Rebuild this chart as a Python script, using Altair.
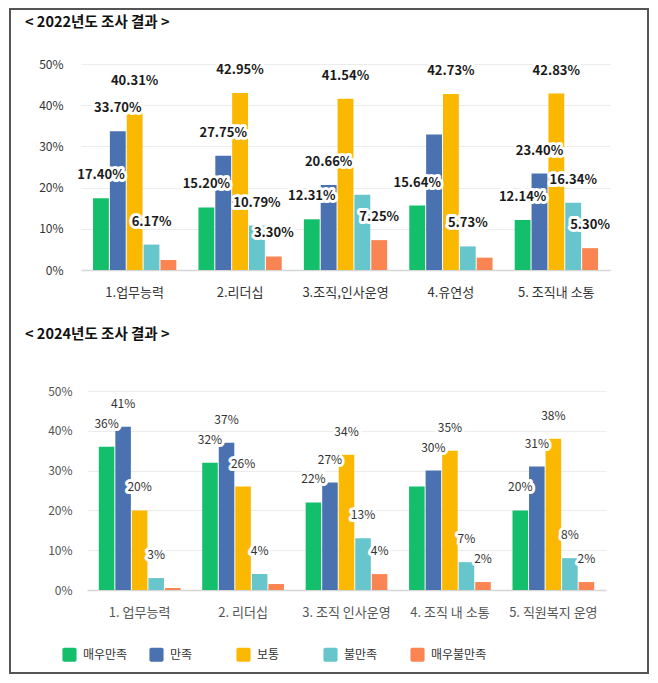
import altair as alt
import pandas as pd

levels = ["매우만족", "만족", "보통", "불만족", "매우불만족"]
colors = ["#14bf6c", "#4a72b0", "#fbb800", "#66c6cc", "#fa8452"]

cats_2022 = ["1.업무능력", "2.리더십", "3.조직,인사운영", "4.유연성", "5. 조직내 소통"]
very_sat_2022 = [17.40, 15.20, 12.31, 15.64, 12.14]
sat_2022 = [33.70, 27.75, 20.66, 32.90, 23.40]
normal_2022 = [40.31, 42.95, 41.54, 42.73, 42.83]
unsat_2022 = [6.17, 10.79, 18.24, 5.73, 16.34]
very_unsat_2022 = [2.42, 3.30, 7.25, 3.00, 5.30]
# (category index, level) pairs without a printed value
unlabeled_2022 = [(0, "매우불만족"), (2, "불만족"), (3, "만족"), (3, "매우불만족")]

cats_2024 = ["1. 업무능력", "2. 리더십", "3. 조직 인사운영", "4. 조직 내 소통", "5. 직원복지 운영"]
very_sat_2024 = [36, 32, 22, 26, 20]
sat_2024 = [41, 37, 27, 30, 31]
normal_2024 = [20, 26, 34, 35, 38]
unsat_2024 = [3, 4, 13, 7, 8]
very_unsat_2024 = [0.5, 1.5, 4, 2, 2]
unlabeled_2024 = [(0, "매우불만족"), (1, "매우불만족"), (3, "매우만족")]

FONT = "Noto Sans CJK KR"


def make_df(cats, series, unlabeled, fmt):
    rows = []
    for i, c in enumerate(cats):
        for lvl, arr in zip(levels, series):
            v = arr[i]
            lab = "" if (i, lvl) in unlabeled else fmt.format(v) + "%"
            rows.append({"cat": c, "lvl": lvl, "value": v, "label": lab})
    return pd.DataFrame(rows)


df22 = make_df(cats_2022, [very_sat_2022, sat_2022, normal_2022, unsat_2022, very_unsat_2022],
               unlabeled_2022, "{:.2f}")
df24 = make_df(cats_2024, [very_sat_2024, sat_2024, normal_2024, unsat_2024, very_unsat_2024],
               unlabeled_2024, "{:.0f}")

H = 664

legend = alt.Legend(
    orient="none", legendX=52, legendY=638, direction="horizontal", columns=5,
    title=None, gridAlign="all", columnPadding=10,
    symbolType="M-0.75,-1H0.75Q1,-1 1,-0.75V0.75Q1,1 0.75,1H-0.75Q-1,1 -1,0.75V-0.75Q-1,-1 -0.75,-1Z",
    symbolSize=200, symbolStrokeWidth=0, symbolOpacity=1,
    labelFont=FONT, labelFontSize=12, labelColor="#333", labelOffset=6, labelLimit=100,
)


def panel(df, cats, xr, yr, ylab_pad, lab_size, lab_weight, lab_color, axlab_color):
    xs = alt.Scale(domain=cats, range=xr, paddingInner=0.21, paddingOuter=0.114)
    ys = alt.Scale(domain=[0, 50], range=yr, nice=False)
    x = alt.X("cat:N", scale=xs, sort=cats,
              axis=alt.Axis(orient="bottom", offset=-(H - yr[0]), title=None, labelAngle=0,
                            ticks=False, domainColor="#d6d6d6", domainWidth=1.5, labelPadding=16,
                            labelFont=FONT, labelFontSize=13, labelColor=axlab_color))
    y = alt.Y("value:Q", scale=ys,
              axis=alt.Axis(orient="left", offset=-xr[0], title=None, values=[0, 10, 20, 30, 40, 50],
                            labelExpr="datum.value + '%'", ticks=False, domain=False, grid=True,
                            gridColor="#ececec", labelPadding=ylab_pad, labelFont=FONT,
                            labelFontSize=12, labelColor=axlab_color))
    xo = alt.XOffset("lvl:N", scale=alt.Scale(domain=levels, paddingInner=0.06), sort=levels)
    color = alt.Color("lvl:N", scale=alt.Scale(domain=levels, range=colors), legend=legend)
    bars = alt.Chart(df).mark_bar().encode(x=x, y=y, xOffset=xo, color=color)
    base = alt.Chart(df)
    halo = base.mark_text(dy=-23, baseline="middle", font=FONT, fontSize=lab_size, fontWeight=lab_weight,
                          stroke="white", strokeWidth=6, strokeJoin="round", fill="white").encode(
        x="cat:N", y="value:Q", xOffset="lvl:N", text="label:N")
    txt = base.mark_text(dy=-23, baseline="middle", font=FONT, fontSize=lab_size, fontWeight=lab_weight,
                         color=lab_color).encode(
        x="cat:N", y="value:Q", xOffset="lvl:N", text="label:N")
    return alt.layer(bars, halo, txt)


p22 = panel(df22, cats_2022, [71, 600], [261, 55], 18, 13, "bold", "#1a1a1a", "#333")
p24 = panel(df24, cats_2024, [77, 596], [581, 382], 15, 12, "normal", "#333", "#555")

titles_df = pd.DataFrame({"t": ["< 2022년도 조사 결과 >"]})
titles_df2 = pd.DataFrame({"t": ["< 2024년도 조사 결과 >"]})
t1 = alt.Chart(titles_df).mark_text(align="left", baseline="middle", font=FONT, fontSize=14.5,
                                    fontWeight="bold", color="#111").encode(
    x=alt.value(15), y=alt.value(14), text="t:N")
t2 = alt.Chart(titles_df2).mark_text(align="left", baseline="middle", font=FONT, fontSize=14.5,
                                     fontWeight="bold", color="#111").encode(
    x=alt.value(15), y=alt.value(326), text="t:N")

chart = alt.layer(p22, p24, t1, t2).resolve_scale(
    x="independent", y="independent", xOffset="independent"
).properties(
    width=638, height=H, padding={"left": 2, "top": 1, "right": 2, "bottom": 2},
    background="white"
).configure_view(stroke="#555555", strokeWidth=2)

chart.save("out.html", embed_options={"renderer": "svg", "actions": False})
